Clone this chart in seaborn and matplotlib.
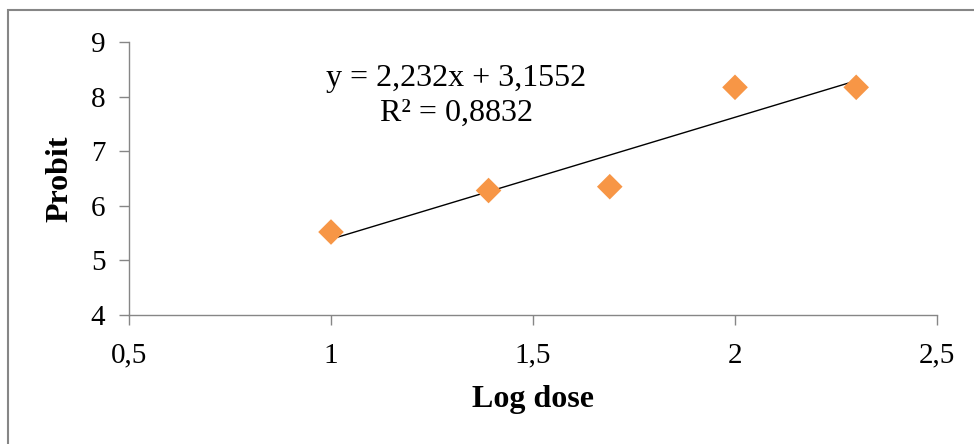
import numpy as np
import pandas as pd
import matplotlib
matplotlib.use("Agg")
import matplotlib.pyplot as plt
import seaborn as sns
from matplotlib.patches import Rectangle

log_dose = [1.0, 1.39, 1.69, 2.0, 2.30]
probit = [5.52, 6.28, 6.35, 8.17, 8.17]
x_ticks = [0.5, 1.0, 1.5, 2.0, 2.5]
x_tick_labels = ["0,5", "1", "1,5", "2", "2,5"]
y_ticks = [4, 5, 6, 7, 8, 9]
y_tick_labels = ["4", "5", "6", "7", "8", "9"]

df = pd.DataFrame({"Log dose": log_dose, "Probit": probit})

sns.set_theme(style="white")
plt.rcParams["font.family"] = ["Liberation Serif", "DejaVu Serif"]
plt.rcParams["text.color"] = "black"
plt.rcParams["axes.labelcolor"] = "black"

fig = plt.figure(figsize=(9.74, 4.44), dpi=100)
ax = fig.add_axes([129/974, 1 - 315/444, (937-129)/974, (315-42)/444])

sns.regplot(data=df, x="Log dose", y="Probit", ax=ax, ci=None, truncate=True,
            marker="D",
            scatter_kws=dict(s=170, color="#F79646", edgecolors="none", alpha=1, zorder=3),
            line_kws=dict(color="black", lw=1.0, zorder=2))

ax.set_xlim(0.5, 2.5)
ax.set_ylim(4, 9)
ax.set_xticks(x_ticks)
ax.set_xticklabels(x_tick_labels)
ax.set_yticks(y_ticks)
ax.set_yticklabels(y_tick_labels)
ax.tick_params(axis="both", which="major", labelsize=21, colors="#868686",
               labelcolor="black", length=7, width=1, direction="out",
               bottom=True, left=True)
ax.tick_params(axis="x", pad=13)
ax.tick_params(axis="y", pad=10)
for s in ["top", "right"]:
    ax.spines[s].set_visible(False)
for s in ["left", "bottom"]:
    ax.spines[s].set_color("#868686")
    ax.spines[s].set_linewidth(1)
ax.set_xlabel("Log dose", fontsize=23, fontweight="bold", labelpad=12, color="black")
ax.set_ylabel("Probit", fontsize=23, fontweight="bold", labelpad=12, color="black")

ax.text(0.405, 0.865, "y = 2,232x + 3,1552", transform=ax.transAxes, ha="center",
        va="center", fontsize=23, color="black")
ax.text(0.405, 0.74, "R² = 0,8832", transform=ax.transAxes, ha="center",
        va="center", fontsize=23, color="black")

fig.patches.append(Rectangle((8/974, -0.05), 1.1, 1 - 10/444 + 0.05, transform=fig.transFigure,
                             fill=False, edgecolor="#868686", lw=1.5))

fig.savefig("out.png", dpi=100)
